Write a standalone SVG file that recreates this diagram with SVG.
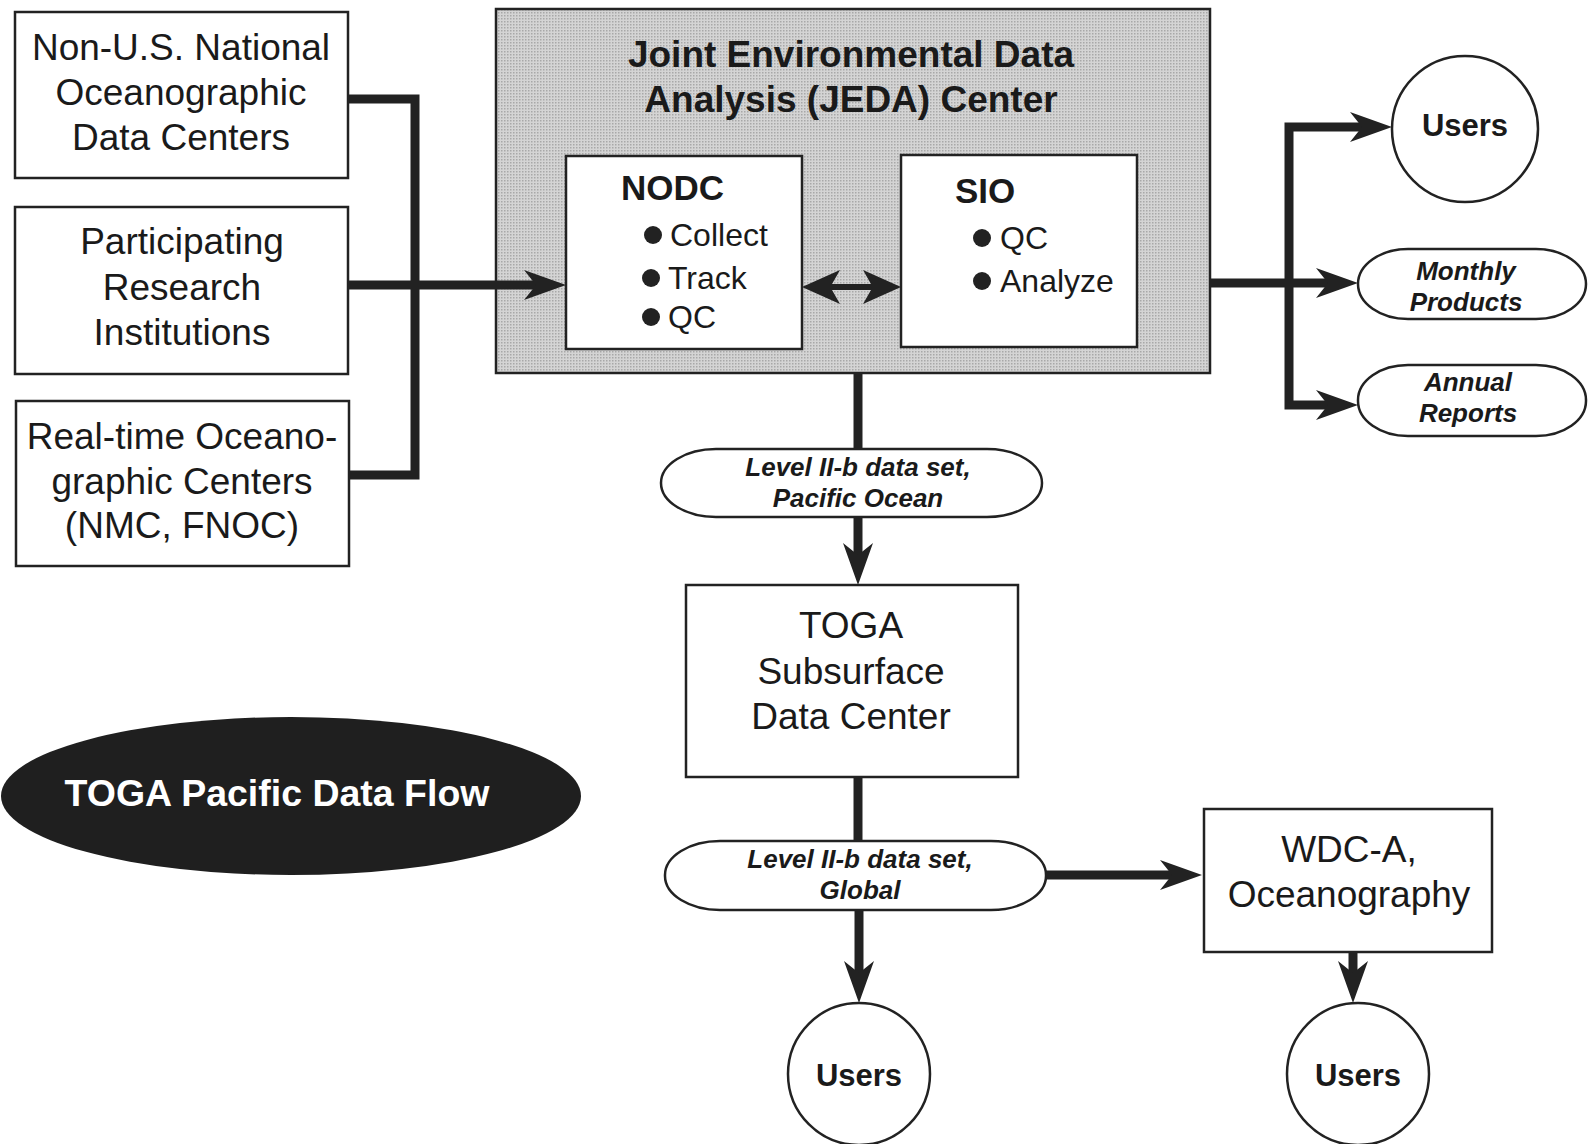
<svg xmlns="http://www.w3.org/2000/svg" width="1589" height="1144" viewBox="0 0 1589 1144">
<style>
.box{fill:#fff;stroke:#222;stroke-width:2.5}
.t{font-family:"Liberation Sans",Arial,sans-serif;fill:#1a1a1a;text-anchor:middle}
.reg{font-size:37px}
.bold{font-weight:bold}
.bi{font-weight:bold;font-style:italic;font-size:26px}
.con{fill:none;stroke:#222;stroke-width:9;stroke-linejoin:miter}
.ah{marker-end:url(#ah)}
</style>
<defs>
<marker id="ah" markerUnits="userSpaceOnUse" markerWidth="44" markerHeight="34" refX="12" refY="17" orient="auto" viewBox="0 0 44 34">
<path d="M0,2 L42,17 L0,32 L12,17 Z" fill="#222"/>
</marker>
<pattern id="dots" width="3" height="3" patternUnits="userSpaceOnUse">
<rect width="3" height="3" fill="#d4d4d4"/>
<rect width="1.5" height="1.5" fill="#a8a8a8"/>
</pattern>
</defs>
<rect width="1589" height="1144" fill="#fff"/>

<g id="non-us">
<rect class="box" x="15" y="12" width="333" height="166"/>
<text class="t reg" x="181" y="60">Non-U.S. National</text>
<text class="t reg" x="181" y="105">Oceanographic</text>
<text class="t reg" x="181" y="150">Data Centers</text>
</g>
<g id="research">
<rect class="box" x="15" y="207" width="333" height="167"/>
<text class="t reg" x="182" y="254">Participating</text>
<text class="t reg" x="182" y="300">Research</text>
<text class="t reg" x="182" y="345">Institutions</text>
</g>
<g id="realtime">
<rect class="box" x="16" y="401" width="333" height="165"/>
<text class="t reg" x="182" y="449">Real-time Oceano-</text>
<text class="t reg" x="182" y="494">graphic Centers</text>
<text class="t reg" x="182" y="538">(NMC, FNOC)</text>
</g>

<g id="jeda">
<rect x="496" y="9" width="714" height="364" fill="url(#dots)" stroke="#222" stroke-width="2.5"/>
<text class="t bold" font-size="37" x="851" y="67">Joint Environmental Data</text>
<text class="t bold" font-size="37" x="851" y="112">Analysis (JEDA) Center</text>
</g>
<g id="nodc">
<rect class="box" x="566" y="156" width="236" height="193"/>
<text class="t bold" font-size="35" x="621" y="200" style="text-anchor:start">NODC</text>
<circle cx="653" cy="235" r="9" fill="#222"/>
<text class="t" font-size="32" x="670" y="246" style="text-anchor:start">Collect</text>
<circle cx="651" cy="278" r="9" fill="#222"/>
<text class="t" font-size="32" x="668" y="289" style="text-anchor:start">Track</text>
<circle cx="651" cy="317" r="9" fill="#222"/>
<text class="t" font-size="32" x="668" y="328" style="text-anchor:start">QC</text>
</g>
<g id="sio">
<rect class="box" x="901" y="155" width="236" height="192"/>
<text class="t bold" font-size="35" x="955" y="203" style="text-anchor:start">SIO</text>
<circle cx="982" cy="238" r="9" fill="#222"/>
<text class="t" font-size="32" x="1000" y="249" style="text-anchor:start">QC</text>
<circle cx="982" cy="281" r="9" fill="#222"/>
<text class="t" font-size="32" x="1000" y="292" style="text-anchor:start">Analyze</text>
</g>

<g id="users-top">
<circle cx="1465" cy="129" r="73" class="box"/>
<text class="t bold" font-size="31" x="1465" y="136">Users</text>
</g>
<g id="monthly">
<rect class="box" x="1358" y="249" width="228" height="70" rx="50" ry="35"/>
<text class="t bi" x="1466" y="280">Monthly</text>
<text class="t bi" x="1466" y="311">Products</text>
</g>
<g id="annual">
<rect class="box" x="1358" y="365" width="228" height="71" rx="50" ry="35"/>
<text class="t bi" x="1468" y="391">Annual</text>
<text class="t bi" x="1468" y="422">Reports</text>
</g>

<g id="level-pacific">
<rect class="box" x="661" y="449" width="381" height="68" rx="55" ry="34"/>
<text class="t bi" x="858" y="476">Level II-b data set,</text>
<text class="t bi" x="858" y="507">Pacific Ocean</text>
</g>
<g id="toga-sdc">
<rect class="box" x="686" y="585" width="332" height="192"/>
<text class="t reg" x="851" y="638">TOGA</text>
<text class="t reg" x="851" y="684">Subsurface</text>
<text class="t reg" x="851" y="729">Data Center</text>
</g>
<g id="level-global">
<rect class="box" x="665" y="841" width="381" height="69" rx="55" ry="34"/>
<text class="t bi" x="860" y="868">Level II-b data set,</text>
<text class="t bi" x="860" y="899">Global</text>
</g>
<g id="wdc">
<rect class="box" x="1204" y="809" width="288" height="143"/>
<text class="t reg" x="1349" y="862">WDC-A,</text>
<text class="t reg" x="1349" y="907">Oceanography</text>
</g>
<g id="users-bottom-left">
<circle cx="859" cy="1074" r="71" class="box"/>
<text class="t bold" font-size="31" x="859" y="1086">Users</text>
</g>
<g id="users-bottom-right">
<circle cx="1358" cy="1074" r="71" class="box"/>
<text class="t bold" font-size="31" x="1358" y="1086">Users</text>
</g>

<g id="title">
<ellipse cx="291" cy="796" rx="290" ry="79" fill="#1f1f1f"/>
<text class="t bold" font-size="36" x="277" y="806" style="fill:#fff" textLength="425" lengthAdjust="spacingAndGlyphs">TOGA Pacific Data Flow</text>
</g>

<g id="connectors">
<path class="con" d="M348,99 H415 V475 H349"/>
<path class="con ah" d="M348,285 H536"/>
<polygon fill="#222" points="802,287 840,270 832,284 871,284 863,270 901,287 863,304 871,290 832,290 840,304"/>
<path class="con ah" d="M1210,283 H1328"/>
<path class="con ah" d="M1289,287 V127 H1362"/>
<path class="con ah" d="M1289,280 V405 H1328"/>
<path class="con" d="M858,374 V449"/>
<path class="con ah" d="M858,517 V555"/>
<path class="con" d="M858,777 V841"/>
<path class="con ah" d="M1046,875 H1172"/>
<path class="con ah" d="M859,910 V973"/>
<path class="con ah" d="M1353,952 V973"/>
</g>
</svg>
